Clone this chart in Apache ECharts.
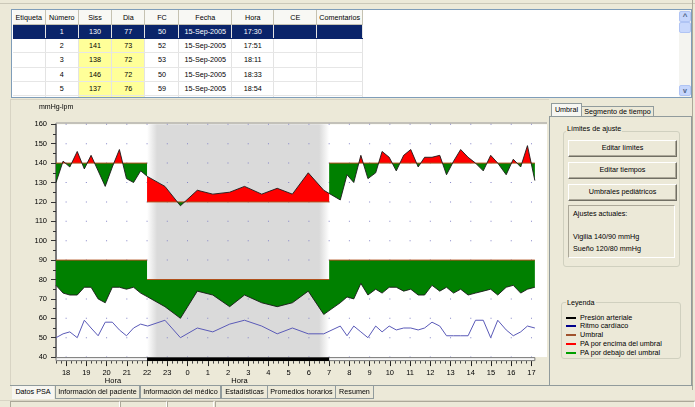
<!DOCTYPE html>
<html><head><meta charset="utf-8">
<script src="https://cdn.jsdelivr.net/npm/echarts@6/dist/echarts.min.js"></script>
<style>
html,body{margin:0;padding:0;width:695px;height:407px;overflow:hidden;background:#ece9d8;font-family:"Liberation Sans",Arial,sans-serif;font-size:7.2px;color:#000;}
.a{position:absolute;box-sizing:border-box;}
#tbl{position:absolute;left:0.7px;top:0;border-collapse:collapse;table-layout:fixed;}
#tbl td,#tbl th{padding:0;text-align:center;font-weight:normal;white-space:nowrap;overflow:hidden;font-size:7.2px;line-height:13px;color:#000;}
#tbl th{height:14px;background:#f8f8f4;border-right:1px solid #c5c2b2;border-bottom:1px solid #c5c2b2;}
#tbl td{height:13.2px;border-right:1px solid #e3e3e3;border-bottom:1px solid #e6e6e6;}
#tbl tr.sel td{background:#0a246a;color:#fff;border-bottom-color:#0a246a;}
#tbl td.y{background:#ffff99;}
.btn{position:absolute;left:568px;width:107px;height:15px;background:#ece9d8;border:1px solid;border-color:#fff #716f64 #716f64 #fff;box-shadow:inset -1px -1px 0 #aca899;text-align:center;line-height:13px;color:#000;}
.tab{position:absolute;top:386px;height:12px;border:1px solid #919b9c;border-top:none;background:#ece9d8;text-align:center;line-height:11px;color:#000 !important;will-change:transform;}
.sp{position:absolute;top:401px;height:6px;border:1px solid;border-color:#aca899 #fff #fff #aca899;}
.lg{position:absolute;left:566px;width:10px;height:2px;}
.lt{position:absolute;left:580px;line-height:8px;color:#000;}
</style></head><body>
<!-- top strip -->
<div class="a" style="left:0;top:3px;width:695px;height:1px;background:#cbc8b8"></div>
<div class="a" style="left:692px;top:0;width:1px;height:390px;background:#aca899"></div>
<!-- table frame -->
<div class="a" id="tframe" style="left:11px;top:9px;width:681px;height:89px;background:#fff;border:1px solid #7f9db9;overflow:hidden">
  <table id="tbl"></table>
  <div class="a" style="left:667px;top:0;width:12px;height:87px;background:#f4f4f0"></div>
  <div class="a" style="left:667px;top:1px;width:12px;height:11px;background:#c6d6fc;border:1px solid #b0c4f4;border-radius:2px;color:#4d6185;font-size:8px;line-height:10px;text-align:center;font-weight:bold">^</div>
  <div class="a" style="left:667px;top:12px;width:12px;height:11px;background:#c9d8fc;border:1px solid #b0c4f4;border-radius:2px"></div>
  <div class="a" style="left:667px;top:75px;width:12px;height:11px;background:#c6d6fc;border:1px solid #b0c4f4;border-radius:2px;color:#4d6185;font-size:7px;line-height:9px;text-align:center;font-weight:bold">v</div>
</div>
<!-- chart panel frame -->
<div class="a" style="left:10px;top:99px;width:539px;height:1px;background:#d8d4c4"></div>
<div class="a" style="left:10px;top:99px;width:1px;height:287px;background:#d8d4c4"></div>
<!-- right panel -->
<div class="a" style="left:551px;top:103px;width:31px;height:14px;background:#f6f6f2;border:1px solid #919b9c;border-bottom:none;text-align:center;line-height:12px">Umbral</div>
<div class="a" style="left:582px;top:106px;width:72px;height:11px;border:1px solid #919b9c;border-bottom:none;border-left:none;text-align:center;line-height:10px">Segmento de tiempo</div>
<div class="a" style="left:549px;top:116px;width:143px;height:270px;border:1px solid #919b9c"></div>
<div class="a" style="left:582px;top:116px;width:109px;height:1px;background:#919b9c"></div>
<div class="a" style="left:563px;top:131px;width:117px;height:136px;border:1px solid #d0d0bf;border-radius:3px"></div>
<div class="a" style="left:566px;top:124px;padding:0 1px;background:#ece9d8;line-height:9px">Límites de ajuste</div>
<div class="btn" style="top:140px">Editar límites</div>
<div class="btn" style="top:162px">Editar tiempos</div>
<div class="btn" style="top:184px">Umbrales pediátricos</div>
<div class="a" style="left:568px;top:205px;width:107px;height:53px;border:1px solid;border-color:#aca899 #fff #fff #aca899"></div>
<div class="a" style="left:573px;top:209px;line-height:9px">Ajustes actuales:</div>
<div class="a" id="vig" style="left:573px;top:232px;line-height:9px"></div>
<div class="a" id="sue" style="left:573px;top:244px;line-height:9px"></div>
<div class="a" style="left:561px;top:302px;width:120px;height:57px;border:1px solid #d0d0bf;border-radius:3px"></div>
<div class="a" style="left:566px;top:298px;padding:0 1px;background:#ece9d8;line-height:9px">Leyenda</div>
<div class="lg" style="top:317px;background:#000"></div><div class="lt" style="top:314px">Presión arteriale</div>
<div class="lg" style="top:325px;background:#00008b"></div><div class="lt" style="top:322px">Ritmo cardíaco</div>
<div class="lg" style="top:334px;background:#a0522d"></div><div class="lt" style="top:331px">Umbral</div>
<div class="lg" style="top:343px;background:#ff0000"></div><div class="lt" style="top:340px">PA por encima del umbral</div>
<div class="lg" style="top:352px;background:#00a000"></div><div class="lt" style="top:349px">PA por debajo del umbral</div>
<!-- bottom tabs -->
<div class="a" style="left:10px;top:385px;width:683px;height:1px;background:#919b9c"></div>
<div class="a" style="left:12px;top:386px;width:42px;height:13px;background:#f7f6f1;text-align:center;line-height:12px">Datos PSA</div>
<div class="tab" style="left:55px;width:83px">Información del paciente</div>
<div class="tab" style="left:140px;width:79px">Información del médico</div>
<div class="tab" style="left:221px;width:45px">Estadísticas</div>
<div class="tab" style="left:267px;width:67px">Promedios horarios</div>
<div class="tab" style="left:335px;width:37px">Resumen</div>
<div class="a" style="left:0;top:399.5px;width:695px;height:1px;background:#d8d4c4"></div>
<div class="sp" style="left:10px;width:108px"></div>
<div class="sp" style="left:120px;width:45px"></div>
<div class="sp" style="left:167px;width:45px"></div>
<div class="sp" style="left:215px;width:478px"></div>

<div id="chart" style="position:absolute;left:0;top:0;width:695px;height:407px;"></div>
<script>
// ---------------- data ----------------
const readingTimes = ["17:30","17:51","18:11","18:33","18:54","19:14","19:35","19:56","20:17","20:38","20:59","21:20","21:41","22:02",
  "22:53","23:39","00:29","01:15","02:05","02:49","03:40","04:26","05:11","05:58","06:44",
  "07:33","07:53","08:13","08:34","08:55","09:18","09:37","09:58","10:19","10:41","11:02","11:24","11:43","12:05","12:28","12:48","13:09","13:30","13:52","14:14","14:37","14:59","15:20","15:45","16:06","16:28","16:48","17:10"];
const systolic = [130,141,138,146,137,144,136,128,138,147,132,130,136,133,
  128,118,126,124,125,128,124,127,124,135,126,
  121,134,130,144,132,135,146,143,136,144,147,138,143,143,144,134,141,147,143,140,136,144,140,134,142,138,149,131];
const diastolic = [77,73,72,72,76,76,70,68,76,76,75,76,73,71,
  66,60,74,72,66,72,68,66,68,74,62,
  68,71,70,78,72,75,73,76,76,74,75,72,72,77,74,76,73,75,72,73,74,75,72,76,77,73,75,76];
const heartRate = [50,52,53,50,59,55,51,58,58,54,51,55,57,56,
  59,50,55,53,57,59,56,52,55,52,52,
  56,51,56,53,50,56,53,56,54,55,55,54,55,58,56,51,51,51,51,59,59,50,59,54,51,53,56,55];
const dayLimits = [140, 90];     // Vigilia: sistólica / diastólica
const nightLimits = [120, 80];   // Sueño
const nightStartHour = 22, nightEndHour = 7;
const hourLabels = ["18","19","20","21","22","23","0","1","2","3","4","5","6","7","8","9","10","11","12","13","14","15","16","17"];
const yTicks = [40,50,60,70,80,90,100,110,120,130,140,150,160];
const studyDate = "15-Sep-2005";
const tableColumns = ["Etiqueta","Número","Siss","Dia","FC","Fecha","Hora","CE","Comentarios"];

// ---------------- table ----------------
const colW = [32.6,33,33.4,33.3,34,52.7,42.3,42.7,46];
(function buildTable(){
  const tbl = document.getElementById('tbl');
  let h = '<colgroup>' + colW.map(w => '<col style="width:' + w + 'px">').join('') + '</colgroup>';
  h += '<tr>' + tableColumns.map(c => '<th>' + c + '</th>').join('') + '</tr>';
  for (let r = 0; r < 6; r++) {
    const cells = ['', r + 1, systolic[r], diastolic[r], heartRate[r], studyDate, readingTimes[r], '', ''];
    h += '<tr' + (r === 0 ? ' class="sel"' : '') + '>' + cells.map((c, ci) =>
      '<td' + ((r > 0 && (ci === 2 || ci === 3)) ? ' class="y"' : '') + '>' + c + '</td>').join('') + '</tr>';
  }
  tbl.innerHTML = h;
  document.getElementById('vig').textContent = 'Vigilia ' + dayLimits[0] + '/' + dayLimits[1] + ' mmHg';
  document.getElementById('sue').textContent = 'Sueño ' + nightLimits[0] + '/' + nightLimits[1] + ' mmHg';
})();

// ---------------- derived ----------------
const T = [];
(function(){ let off = 0, prev = -1;
  readingTimes.forEach(s => { const p = s.split(':').map(Number); let v = p[0] + p[1] / 60 + off;
    if (v < prev) { off += 24; v += 24; } T.push(v); prev = v; });
})();
const NS = nightStartHour, NE = nightEndHour + 24;
const firstT = T[0], lastT = T[T.length - 1];
const yMin = yTicks[0], yMax = yTicks[yTicks.length - 1];
const hourTicks = hourLabels.map((_, i) => 18 + i);
const minorTicks = [];
for (let q = Math.ceil(firstT * 4); q <= Math.floor(lastT * 4); q++) if (q % 4 !== 0) minorTicks.push(q / 4);
const thr = (t, k) => (t >= NS && t < NE) ? nightLimits[k] : dayLimits[k];
const RED = '#ff0000', GREEN = '#008000';
const FONT = 'Liberation Sans';

// merged above/below-threshold regions, positioned with api.coord
function makeFill(vals, k) {
  return function (params, api) {
    if (params.dataIndex !== 0) return null;
    const pieces = [];
    for (let i = 0; i < T.length - 1; i++) {
      const t0 = T[i], t1 = T[i + 1], v0 = vals[i], v1 = vals[i + 1];
      const cuts = [t0];
      [NS, NE].forEach(b => { if (b > t0 && b < t1) cuts.push(b); });
      cuts.push(t1);
      const vAt = t => v0 + (v1 - v0) * (t - t0) / (t1 - t0);
      for (let j = 0; j < cuts.length - 1; j++) {
        const a = cuts[j], b = cuts[j + 1], L = thr((a + b) / 2, k), va = vAt(a), vb = vAt(b);
        if ((va - L) * (vb - L) < 0) {
          const c = a + (L - va) / (vb - va) * (b - a);
          pieces.push({ a, b: c, L, va, vb: L, s: Math.sign(va - L) });
          pieces.push({ a: c, b, L, va: L, vb, s: Math.sign(vb - L) });
        } else pieces.push({ a, b, L, va, vb, s: Math.sign(va + vb - 2 * L) });
      }
    }
    const regions = [];
    let cur = null;
    pieces.forEach(p => {
      if (cur && cur.s === p.s) cur.list.push(p);
      else { cur = { s: p.s, list: [p] }; regions.push(cur); }
    });
    const children = [];
    regions.forEach(r => {
      if (r.s === 0) return;
      const upper = [[r.list[0].a, r.list[0].va]].concat(r.list.map(p => [p.b, p.vb]));
      const lower = [];
      r.list.forEach(p => { lower.push([p.a, p.L], [p.b, p.L]); });
      lower.reverse();
      const col = r.s > 0 ? RED : GREEN;
      children.push({ type: 'polygon', shape: { points: upper.concat(lower).map(q => api.coord(q)) },
        style: { fill: col } });
    });
    return { type: 'group', children };
  };
}

const limitSegments = [];
[0, 1].forEach(k => {
  limitSegments.push([firstT, NS, dayLimits[k]], [NS, NE, nightLimits[k]], [NE, lastT, dayLimits[k]]);
});

const chart = echarts.init(document.getElementById('chart'), null, { renderer: 'canvas' });
chart.setOption({
  animation: false,
  textStyle: { fontFamily: FONT },
  grid: { left: 56, top: 124.3, width: 491, height: 232.8, show: true, backgroundColor: '#ffffff',
    borderWidth: 0, containLabel: false, outerBoundsMode: 'none' },
  xAxis: [{
    type: 'value', min: firstT, max: lastT + 0.6, offset: 4, position: 'bottom',
    axisLine: { show: false }, splitLine: { show: false },
    axisTick: { show: true, customValues: hourTicks, length: 5, lineStyle: { color: '#222', width: 1 } },
    axisLabel: { customValues: hourTicks, formatter: v => hourLabels[hourTicks.indexOf(v)], fontSize: 7.5,
      color: '#000', margin: 8, fontFamily: FONT }
  }, {
    type: 'value', min: firstT, max: lastT + 0.6, offset: 4, position: 'bottom',
    axisLine: { show: false }, splitLine: { show: false }, axisLabel: { show: false },
    axisTick: { show: true, customValues: minorTicks, length: 2.5, lineStyle: { color: '#444', width: 1 } }
  }],
  yAxis: {
    type: 'value', min: yMin, max: yMax, interval: 10,
    axisLine: { show: true, lineStyle: { color: '#7a7a7a', width: 2 } },
    axisTick: { show: true, length: 5, lineStyle: { color: '#333' } },
    minorTick: { show: true, splitNumber: 2, length: 3, lineStyle: { color: '#333' } },
    splitLine: { show: false },
    axisLabel: { fontSize: 7.5, color: '#000', margin: 9, fontFamily: FONT }
  },
  graphic: [
    { type: 'rect', shape: { x: 56, y: 122.5, width: 491, height: 1 }, style: { fill: '#9a9a9a' }, z: 100 },
    { type: 'text', x: 39, y: 104, style: { text: 'mmHg-lpm', font: '7px "Liberation Sans"', fill: '#000' } },
    { type: 'text', x: 113, y: 376.5, style: { text: 'Hora', font: '7.5px "Liberation Sans"', fill: '#000', align: 'center' } },
    { type: 'text', x: 239.5, y: 376.5, style: { text: 'Hora', font: '7.5px "Liberation Sans"', fill: '#000', align: 'center' } }
  ],
  series: [
    { type: 'custom', name: 'sueño', z: 1, silent: true, data: [[NS, yMax]],
      renderItem: (params, api) => {
        const p0 = api.coord([NS, yMax]), p1 = api.coord([NE, yMin]);
        const w = p1[0] - p0[0], f = 10 / w;
        return { type: 'rect', shape: { x: p0[0], y: p0[1], width: w, height: p1[1] - p0[1] },
          style: { fill: new echarts.graphic.LinearGradient(0, 0, 1, 0, [
            { offset: 0, color: '#ffffff' }, { offset: f, color: '#dadada' },
            { offset: 1 - f, color: '#dadada' }, { offset: 1, color: '#ffffff' }]) } };
      } },
    { type: 'custom', name: 'rejilla', z: 2, silent: true, data: hourTicks.map(h => [h, yMin]),
      renderItem: (params, api) => {
        const h = hourTicks[params.dataIndex];
        return { type: 'group', children: yTicks.map(v => {
          const p = api.coord([h, v]);
          return { type: 'rect', shape: { x: p[0] - 0.5, y: p[1] - 0.5, width: 1, height: 1 }, style: { fill: '#8484c8' } };
        }) };
      } },
    { type: 'custom', name: 'Siss umbral', z: 3, silent: true, data: [[firstT, systolic[0]]],
      renderItem: makeFill(systolic, 0) },
    { type: 'custom', name: 'Dia umbral', z: 3, silent: true, data: [[firstT, diastolic[0]]],
      renderItem: makeFill(diastolic, 1) },
    { type: 'custom', name: 'Umbral', z: 5, silent: true, data: limitSegments.map(s => [s[0], s[2]]),
      renderItem: (params, api) => {
        const s = limitSegments[params.dataIndex];
        const a = api.coord([s[0], s[2]]), b = api.coord([s[1], s[2]]);
        return { type: 'line', shape: { x1: a[0], y1: a[1], x2: b[0], y2: b[1] }, style: { stroke: '#b0501c', lineWidth: 1 } };
      } },
    { type: 'line', name: 'Siss', z: 6, symbol: 'none', silent: true, data: T.map((t, i) => [t, systolic[i]]),
      lineStyle: { color: '#1a1a1a', width: 0.9 } },
    { type: 'line', name: 'Dia', z: 6, symbol: 'none', silent: true, data: T.map((t, i) => [t, diastolic[i]]),
      lineStyle: { color: '#1a1a1a', width: 0.9 } },
    { type: 'line', name: 'FC', z: 6, symbol: 'none', silent: true, data: T.map((t, i) => [t, heartRate[i]]),
      lineStyle: { color: '#5a5ab8', width: 1 } },
    { type: 'custom', name: 'eje', z: 7, silent: true, clip: false, data: [[firstT, yMin]],
      renderItem: (params, api) => {
        const a = api.coord([firstT, yMin]), b = api.coord([lastT, yMin]);
        const n0 = api.coord([NS, yMin]), n1 = api.coord([NE, yMin]);
        return { type: 'group', children: [
          { type: 'rect', shape: { x: a[0], y: a[1] + 0.5, width: b[0] - a[0], height: 3 },
            style: { fill: '#f6f6f6', stroke: '#7a7a7a', lineWidth: 1 } },
          { type: 'rect', shape: { x: n0[0], y: a[1] + 0.3, width: n1[0] - n0[0], height: 3.6 }, style: { fill: '#000' } }
        ] };
      } }
  ]
});
</script>
</body></html>
